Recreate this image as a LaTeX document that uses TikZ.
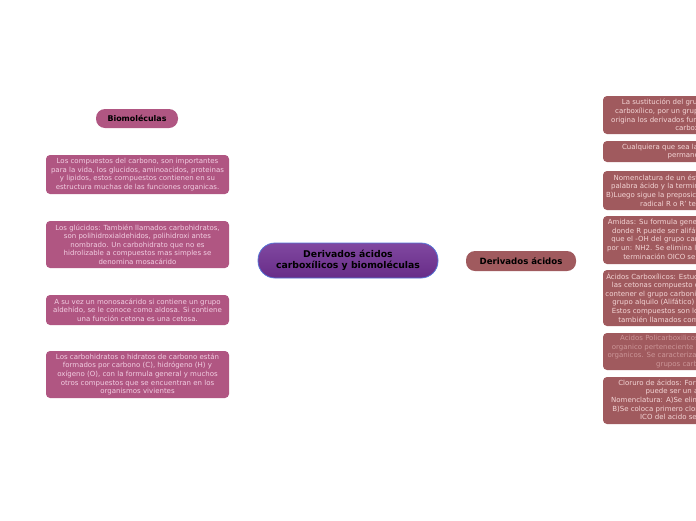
\documentclass[tikz,border=0pt]{standalone}
\usepackage{fontspec}
\setmainfont{DejaVu Sans}
\usepackage{tikz}
\usetikzlibrary{positioning}
\definecolor{rootpurple}{RGB}{128,72,160}
\definecolor{rootdark}{RGB}{104,44,136}
\definecolor{rootedge}{RGB}{86,116,214}
\definecolor{biopink}{RGB}{176,86,130}
\definecolor{biotext}{RGB}{242,206,226}
\definecolor{acidred}{RGB}{160,90,94}
\definecolor{acidtext}{RGB}{244,214,214}
\definecolor{acidfaint}{RGB}{204,150,152}

\begin{document}
\begin{tikzpicture}[x=1pt, y=-1pt,
    every node/.style={inner sep=0pt, align=center},
    smalltxt/.style={font=\fontsize{7}{8.6}\selectfont},
    bioleaf/.style={smalltxt, fill=biopink, text=biotext, rounded corners=4pt, minimum width=183pt},
    acidleaf/.style={smalltxt, fill=acidred, text=acidtext, rounded corners=4pt, minimum width=188pt},
    branch/.style={rounded corners=9pt, text=black}]
  \useasboundingbox (0,0) rectangle (696,520);
  \clip (0,0) rectangle (696,520);

  % centre
  \node[font=\fontsize{9.3}{11.5}\bfseries, top color=rootpurple, bottom color=rootdark,
        draw=rootedge, line width=0.8pt, rounded corners=17pt,
        minimum width=180pt, minimum height=35pt] (root) at (348,260.5)
    {Derivados ácidos\\carboxílicos y biomoléculas};

  % left branch
  \node[branch, font=\fontsize{7.9}{9}\bfseries, fill=biopink, minimum width=82pt, minimum height=19pt] (bio) at (137,118.5) {Biomoléculas};
  \node[bioleaf, minimum height=39pt] (bio1) at (137.5,174.5)
    {Los compuestos del carbono, son importantes\\para la vida, los glucidos, aminoacidos, proteinas\\y lipidos, estos compuestos contienen en su\\estructura muchas de las funciones organicas.};
  \node[bioleaf, minimum height=47pt] (bio2) at (137.5,244.5)
    {Los glúcidos: También llamados carbohidratos,\\son polihidroxialdehidos, polihidroxi antes\\nombrado. Un carbohidrato que no es\\hidrolizable a compuestos mas simples se\\denomina mosacárido};
  \node[bioleaf, minimum height=30pt] (bio3) at (137.5,310)
    {A su vez un monosacárido si contiene un grupo\\aldehído, se le conoce como aldosa. Si contiene\\una función cetona es una cetosa.};
  \node[bioleaf, minimum height=47pt] (bio4) at (137.5,374.5)
    {Los carbohidratos o hidratos de carbono están\\formados por carbono (C), hidrógeno (H) y\\oxígeno (O), con la formula general y muchos\\otros compuestos que se encuentran en los\\organismos vivientes};

  % right branch (cut off by the page edge)
  \node[branch, font=\fontsize{8.6}{10}\bfseries, fill=acidred, minimum width=110pt, minimum height=20pt] (acid) at (521,261) {Derivados ácidos};
  \node[acidleaf, minimum height=38pt] (acid1) at (697,115)
    {La sustitución del grupo hidroxilo del ácido\\carboxílico, por un grupo o átomo diferente de\\origina los derivados funcionales de los ácidos, y\\carboxílicos.};
  \node[acidleaf, minimum height=21pt] (acid2) at (697,151.5)
    {Cualquiera que sea la sustitución, el grupo\\permanece igual};
  \node[acidleaf, minimum height=39pt] (acid3) at (697,190.5)
    {Nomenclatura de un éster: A)Se escribe aquí la\\palabra ácido y la terminación ICO cambia a ATO\\B)Luego sigue la preposición de y el nombre del ion\\radical R o R' terminado en -ILO.};
  \node[acidleaf, minimum height=48pt] (acid4) at (697,240)
    {Amidas: Su formula general es R-CONH2 en donde\\donde R puede ser alifático o aromático, y se ve\\que el -OH del grupo carboxilo ha sido sustituido\\por un: NH2. Se elimina la palabra ácido y luego la\\terminación OICO se cambia por la AMIDA};
  \node[acidleaf, minimum height=56pt] (acid5) at (697,298)
    {Ácidos Carboxílicos: Estudiados en conjunto con los\\las cetonas compuesto orgánico por el hecho de\\contener el grupo carbonilo unido a un átomo de un\\grupo alquilo (Alifático) o a un arilo (Aromático).\\Estos compuestos son los ácidos orgánicos, más\\también llamados como los ácidos orgánicos};
  \node[acidleaf, text=acidfaint, minimum height=37pt] (acid6) at (697,351.5)
    {Acidos Policarboxilicos: Compuesto químico\\organico perteneciente a la familia de los acidos\\organicos. Se caracterizan por contener dos o más\\grupos carboxilo COOH};
  \node[acidleaf, minimum height=47pt] (acid7) at (697,400.5)
    {Cloruro de ácidos: Formula R-CO-Cl, donde R\\puede ser un alifático u otros\\Nomenclatura: A)Se elimina la palabra ácido, así\\B)Se coloca primero cloruro de, la terminación y\\ICO del acido se cambia por ILO.};
\end{tikzpicture}
\end{document}
